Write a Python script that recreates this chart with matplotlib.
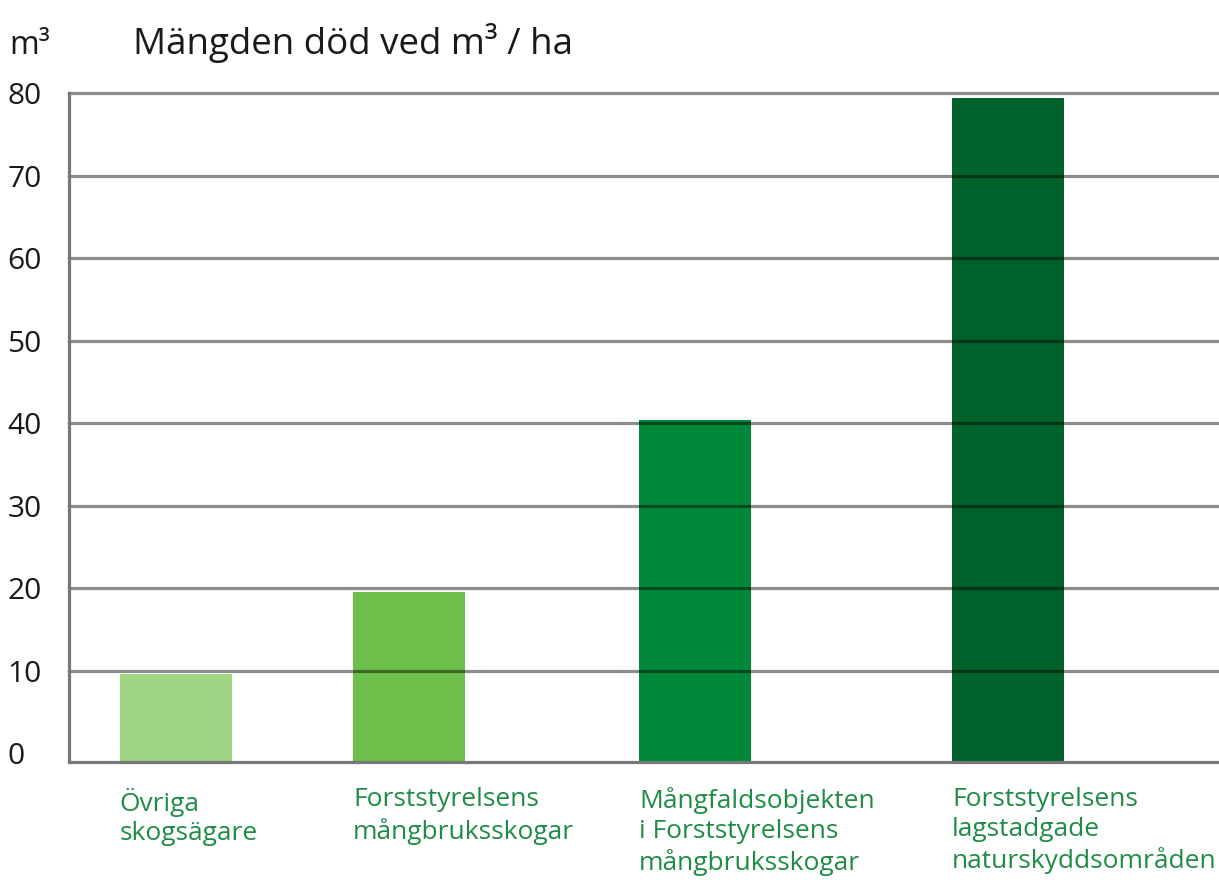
import matplotlib
matplotlib.use("Agg")
import matplotlib.pyplot as plt
import numpy as np

# ---- data ----
categories = [
    "Övriga\nskogsägare",
    "Forststyrelsens\nmångbruksskogar",
    "Mångfaldsobjekten\ni Forststyrelsens\nmångbruksskogar",
    "Forststyrelsens\nlagstadgade\nnaturskyddsområden",
]
values = [9.6, 19.5, 40.4, 79.4]
yticks = [0, 10, 20, 30, 40, 50, 60, 70, 80]
title = "Mängden död ved m³ / ha"
unit_label = "m³"

# ---- layout / style ----
bar_colors = ["#a0d683", "#6cc04a", "#00883a", "#00612a"]
x_pos = [106.5, 340.2, 626.2, 938.9]   # bar centres (axis units)
bar_width = 112
x_max = 1150
y_min = -1.05
y_max = 80
text_green = "#1e8c46"

plt.rcParams['font.family'] = ['Open Sans', 'DejaVu Sans']

W, H = 1219, 886
fig = plt.figure(figsize=(W / 100, H / 100), dpi=100)
ax = fig.add_axes([69 / W, (H - 762) / H, (W - 69) / W, (762 - 93.3) / H])

vals = np.array(values)
ax.bar(x_pos, vals - y_min, bottom=y_min, width=bar_width, color=bar_colors,
       zorder=2, linewidth=0)

for t in yticks[1:]:
    ax.axhline(t, color="black", alpha=0.45, linewidth=2.3, zorder=3,
               clip_on=False)

ax.set_xlim(0, x_max)
ax.set_ylim(y_min, y_max)
ax.set_xticks([])
ax.set_yticks(yticks)
ax.set_yticklabels([str(t) for t in yticks])
ax.tick_params(axis='y', length=0, pad=44.5, labelsize=21.5, labelcolor="#1a1a1a")
for lab in ax.get_yticklabels():
    lab.set_horizontalalignment('left')

for s in ["top", "right"]:
    ax.spines[s].set_visible(False)
for s in ["left", "bottom"]:
    ax.spines[s].set_color("#777777")
    ax.spines[s].set_linewidth(2.3)
    ax.spines[s].set_zorder(4)

# category labels, left-aligned at bar left edges
for xc, lab in zip(x_pos, categories):
    ax.text(xc - bar_width / 2, -0.038, lab, transform=ax.get_xaxis_transform(),
            ha='left', va='top', fontsize=19, color=text_green,
            linespacing=1.25)

fig.text(9 / W, 1 - 54 / H, unit_label, fontsize=23, color="#1a1a1a",
         ha='left', va='baseline')
fig.text(133 / W, 1 - 54 / H, title, fontsize=26.5, color="#1a1a1a",
         ha='left', va='baseline')

fig.savefig("out.png", dpi=100)
